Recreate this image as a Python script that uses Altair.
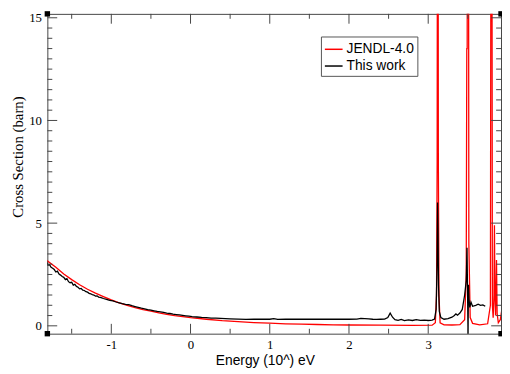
import altair as alt
import pandas as pd

# ---- data ----
jendl_E = [-1.82, -1.7, -1.6, -1.5, -1.4, -1.3, -1.2, -1.1, -1.0, -0.9, -0.8, -0.7, -0.6, -0.5,
           -0.4, -0.3, -0.2, -0.1, 0.0, 0.2, 0.4, 0.6, 0.8, 1.0, 1.2, 1.4, 1.6, 1.8, 2.0, 2.4,
           2.8, 3.05, 3.09, 3.105, 3.113, 3.118, 3.123, 3.128, 3.136, 3.15, 3.2, 3.3, 3.4,
           3.46, 3.48, 3.487, 3.492, 3.497, 3.507, 3.513, 3.53, 3.56, 3.65, 3.75, 3.785,
           3.795, 3.802, 3.81, 3.82, 3.83, 3.836, 3.842, 3.85, 3.862, 3.87, 3.885, 3.91, 3.93]
jendl_xs = [3.2, 2.85, 2.52, 2.25, 2.0, 1.78, 1.59, 1.42, 1.26, 1.12, 1.0, 0.89, 0.79, 0.71,
            0.63, 0.56, 0.50, 0.45, 0.40, 0.32, 0.25, 0.20, 0.16, 0.13, 0.10, 0.08, 0.065, 0.05,
            0.04, 0.03, 0.02, 0.03, 0.15, 1.5, 8.0, 30.0, 30.0, 8.0, 1.5, 0.15, 0.05, 0.04, 0.06,
            0.3, 2.5, 13.5, 13.5, 30.0, 30.0, 4.0, 0.4, 0.12, 0.05, 0.1, 1.0,
            30.0, 30.0, 1.0, 0.4, 1.5, 4.9, 1.5, 0.5, 3.2, 0.6, 0.15, 0.3, 0.8]

work_E = [-1.82, -1.80, -1.78, -1.76, -1.74, -1.72, -1.70, -1.68, -1.66, -1.64, -1.62, -1.60,
          -1.58, -1.56, -1.54, -1.52, -1.50, -1.48, -1.46, -1.44, -1.42, -1.40, -1.38, -1.36,
          -1.34, -1.32, -1.30, -1.28, -1.26, -1.24, -1.22, -1.20, -1.18, -1.16, -1.14, -1.12,
          -1.10, -1.06, -1.02, -0.98, -0.94, -0.90, -0.86, -0.82, -0.78, -0.74, -0.70, -0.66,
          -0.62, -0.58, -0.54, -0.50, -0.46, -0.42, -0.38, -0.34, -0.30, -0.26, -0.22, -0.18,
          -0.14, -0.10, -0.06, -0.02, 0.02, 0.08, 0.14, 0.20, 0.26, 0.32, 0.38, 0.44, 0.50,
          0.6, 0.7, 0.8, 0.9, 1.0, 1.05, 1.1, 1.2, 1.3, 1.4, 1.5, 1.6, 1.7, 1.8, 1.9, 2.0,
          2.1, 2.15, 2.2, 2.25, 2.3, 2.35, 2.4, 2.45, 2.49, 2.52, 2.55, 2.58, 2.62, 2.66,
          2.7, 2.75, 2.8, 2.85, 2.9, 2.95, 3.0, 3.05, 3.08, 3.1, 3.112, 3.118, 3.124, 3.13,
          3.14, 3.16, 3.2, 3.25, 3.3, 3.33, 3.35, 3.37, 3.4, 3.43, 3.46, 3.48, 3.49, 3.497,
          3.503, 3.508, 3.515, 3.525, 3.54, 3.56, 3.6, 3.63, 3.66, 3.69, 3.72]
work_xs = [3.18, 2.95, 2.98, 2.85, 2.80, 2.74, 2.62, 2.66, 2.52, 2.47, 2.40, 2.36,
           2.25, 2.30, 2.15, 2.10, 2.12, 1.98, 2.02, 1.92, 1.88, 1.80, 1.82, 1.74,
           1.72, 1.66, 1.64, 1.58, 1.56, 1.52, 1.50, 1.45, 1.46, 1.40, 1.38, 1.36,
           1.33, 1.29, 1.24, 1.21, 1.16, 1.12, 1.08, 1.05, 1.03, 0.98, 0.94, 0.90,
           0.86, 0.83, 0.79, 0.76, 0.73, 0.70, 0.68, 0.65, 0.62, 0.60, 0.57, 0.55,
           0.53, 0.51, 0.49, 0.47, 0.45, 0.43, 0.41, 0.40, 0.38, 0.37, 0.36, 0.35, 0.34,
           0.33, 0.31, 0.33, 0.32, 0.32, 0.35, 0.31, 0.32, 0.32, 0.32, 0.32, 0.32, 0.33, 0.32, 0.32, 0.32,
           0.33, 0.36, 0.35, 0.34, 0.32, 0.31, 0.32, 0.33, 0.40, 0.62, 0.42, 0.30, 0.27, 0.31,
           0.25, 0.29, 0.26, 0.30, 0.27, 0.28, 0.26, 0.28, 0.33, 0.8, 3.0, 6.0, 4.5, 2.0,
           0.7, 0.4, 0.32, 0.35, 0.42, 0.5, 0.58, 0.52, 0.62, 0.8, 1.5, 2.2, 3.8, 1.5,
           -0.5, 2.0, 1.3, 0.9, 1.15, 0.95, 1.0, 1.05, 1.0, 1.02, 0.95]

series_names = ["JENDL-4.0", "This work"]
series_colors = ["#ff0000", "#000000"]

x_domain = [-1.807, 3.919]
y_domain = [-0.383, 15.19]
x_major = [-1, 0, 1, 2, 3]
x_minor = [-1.5, -0.5, 0.5, 1.5, 2.5, 3.5]
y_major = [0, 5, 10, 15]
y_minor = [v * 0.5 for v in range(1, 30) if v % 10 != 0]

W, H = 461, 325

df = pd.concat([
    pd.DataFrame({"E": jendl_E, "xs": jendl_xs, "series": series_names[0]}),
    pd.DataFrame({"E": work_E, "xs": work_xs, "series": series_names[1]}),
], ignore_index=True)

xs = alt.Scale(domain=x_domain, nice=False, zero=False)
ys = alt.Scale(domain=y_domain, nice=False, zero=False)

lines = alt.Chart(df).mark_line(clip=True, strokeWidth=1.3).encode(
    x=alt.X("E:Q", scale=xs, title="Energy (10^) eV",
            axis=alt.Axis(values=x_major, ticks=False, domain=False, grid=False,
                          labelExpr="'' + datum.value",
                          labelFont="Liberation Serif", labelFontSize=13, labelColor="#000",
                          labelPadding=5, titleFont="Liberation Sans", titleFontSize=14,
                          titleFontWeight="normal", titleColor="#000",
                          titleX=221, titleY=27, titleBaseline="middle", titleAlign="center")),
    y=alt.Y("xs:Q", scale=ys, title="Cross Section (barn)",
            axis=alt.Axis(values=y_major, ticks=False, domain=False, grid=False,
                          labelFont="Liberation Serif", labelFontSize=13, labelColor="#000",
                          labelPadding=6, titleFont="Liberation Serif", titleFontSize=15,
                          titleFontWeight="normal", titleColor="#000",
                          titleX=-30, titleY=145, titleAngle=270,
                          titleBaseline="middle", titleAlign="center")),
    color=alt.Color("series:N", scale=alt.Scale(domain=series_names, range=series_colors),
                    legend=alt.Legend(title=None, orient="none", legendX=278, legendY=23,
                                      strokeColor="#555", fillColor="#fff", padding=3,
                                      labelFont="Liberation Sans", labelFontSize=14,
                                      labelColor="#000", symbolType="stroke", symbolSize=324,
                                      symbolStrokeWidth=1.5, labelOffset=3, rowPadding=-4)),
)

tick_color = "#444"

def xticks(vals, y0, y1):
    return alt.Chart(pd.DataFrame({"v": vals})).mark_rule(color=tick_color, strokeWidth=1).encode(
        x=alt.X("v:Q", scale=xs, axis=None), y=alt.value(y0), y2=alt.value(y1))

def yticks(vals, x0, x1):
    return alt.Chart(pd.DataFrame({"v": vals})).mark_rule(color=tick_color, strokeWidth=1).encode(
        y=alt.Y("v:Q", scale=ys, axis=None), x=alt.value(x0), x2=alt.value(x1))

ticks = [
    xticks(x_major, H, H - 10), xticks(x_minor, H, H - 5),
    xticks(x_major, 0, 10), xticks(x_minor, 0, 5),
    yticks(y_major, 0, 10), yticks(y_minor, 0, 5),
    yticks(y_major, W, W - 10), yticks(y_minor, W, W - 5),
]

corners = alt.Chart(pd.DataFrame({
    "cx": [x_domain[0], x_domain[1], x_domain[0], x_domain[1]],
    "cy": [y_domain[0], y_domain[0], y_domain[1], y_domain[1]],
})).mark_square(color="#000", size=30, opacity=1, clip=False).encode(
    x=alt.X("cx:Q", scale=xs, axis=None), y=alt.Y("cy:Q", scale=ys, axis=None))

chart = alt.layer(lines, *ticks, corners).resolve_axis(
    x="independent", y="independent"
).properties(
    width=W, height=H,
    autosize=alt.AutoSizeParams(type="none"),
    padding={"left": 40, "top": 3, "right": 1, "bottom": 38},
    background="#ffffff",
).configure_view(stroke="#444", strokeWidth=1)

chart.save("out.html", embed_options={"renderer": "svg", "actions": False})
